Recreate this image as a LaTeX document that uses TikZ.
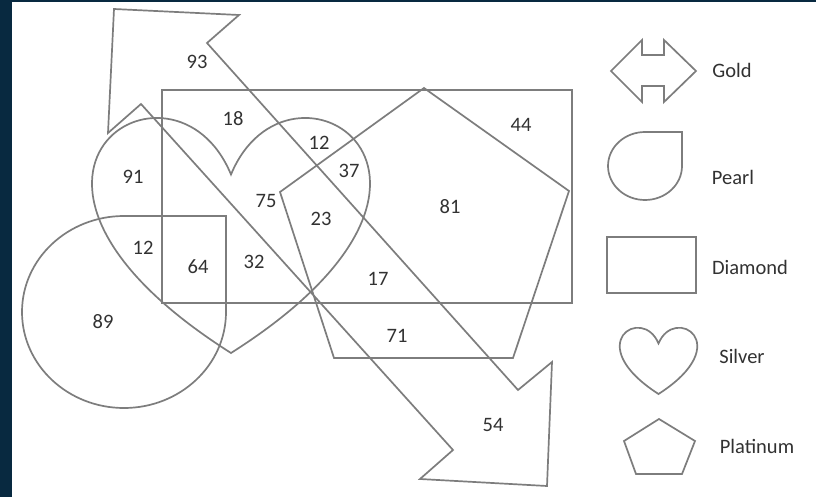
\documentclass[tikz,border=0pt]{standalone}
\usepackage{fontspec}
\setmainfont{Carlito}
\definecolor{navy}{RGB}{8,41,64}
\definecolor{shapeline}{RGB}{125,125,125}
\definecolor{txt}{RGB}{50,50,50}
\begin{document}
\begin{tikzpicture}[x=1pt,y=-1pt,
  shp/.style={draw=shapeline,line width=1.7pt,line join=miter},
  num/.style={text=txt,font=\fontsize{20.5}{24}\selectfont,inner sep=0pt},
  leg/.style={text=txt,font=\fontsize{20.5}{24}\selectfont,inner sep=0pt}]
\useasboundingbox (0,0) rectangle (816,497);
\fill[navy] (0,0) rectangle (816,497);
\fill[white] (12,2) rectangle (816,497);
% Gold (double arrow)
\draw[shp] (114,9) -- (239,15) -- (207,43) -- (518,390) -- (552,362) -- (547,486)
  -- (420,479) -- (453,450) -- (141,104) -- (108,133) -- cycle;
% Diamond
\draw[shp] (162,90) rectangle (572,303);
% Pearl
\draw[shp] (124,216) arc[start angle=-90,end angle=-360,x radius=102,y radius=96] -- (226,216) -- cycle;
% Silver (heart)
\draw[shp] (231,174.5) .. controls (288.5,35.7) and (512.75,174.5) .. (231,353)
  .. controls (-50.75,174.5) and (173.5,35.7) .. (231,174.5) -- cycle;
% Platinum (pentagon)
\draw[shp] (424,88) -- (569,191) -- (513,358) -- (334,358) -- (280,192) -- cycle;
% numbers
\node[num] (n93) at (197,62) {93};
\node[num] (n18) at (233,119) {18};
\node[num] (n91) at (133,177) {91};
\node[num] (n75) at (266,201) {75};
\node[num] (n12a) at (319,143) {12};
\node[num] (n37) at (349,171) {37};
\node[num] (n23) at (321,219) {23};
\node[num] (n81) at (450,207) {81};
\node[num] (n44) at (521,125) {44};
\node[num] (n12b) at (143,248) {12};
\node[num] (n64) at (198,267) {64};
\node[num] (n32) at (254,262) {32};
\node[num] (n89) at (103,322) {89};
\node[num] (n17) at (378,279) {17};
\node[num] (n71) at (397,336) {71};
\node[num] (n54) at (493,425) {54};
% legend shapes
\draw[shp] (611,71) -- (642,40) -- (642,55) -- (664,55) -- (664,40) -- (696,71)
  -- (664,102) -- (664,86) -- (642,86) -- (642,102) -- cycle;
\draw[shp] (645,132) arc[start angle=-90,end angle=-360,x radius=37,y radius=34] -- (682,132) -- cycle;
\draw[shp] (607,237) rectangle (696,293);
\draw[shp] (658.5,343.5) .. controls (674.5,304.7) and (737.1,343.5) .. (658.5,394)
  .. controls (579.9,343.5) and (642.5,304.7) .. (658.5,343.5) -- cycle;
\draw[shp] (659,419) -- (695,441) -- (682,474) -- (636,474) -- (624,441) -- cycle;
% legend labels
\node[leg] (lgold) at (732,70) {Gold};
\node[leg] (lpearl) at (733,177) {Pearl};
\node[leg] (ldiam) at (750,267) {Diamond};
\node[leg] (lsilv) at (742,356) {Silver};
\node[leg] (lplat) at (757,446) {Platinum};
\end{tikzpicture}
\end{document}
